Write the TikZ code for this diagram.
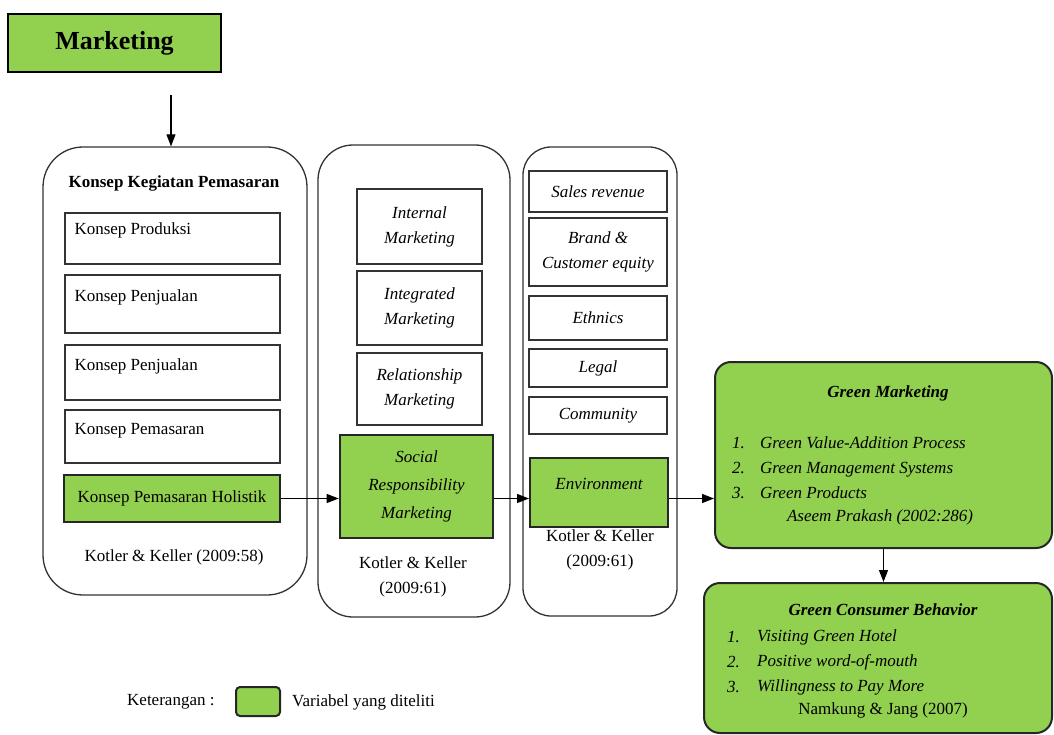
\documentclass[tikz,border=0pt]{standalone}
\usepackage{fontspec}
\setmainfont{Liberation Serif}
\usetikzlibrary{arrows.meta,fit}
\definecolor{leaf}{HTML}{92D050}
\definecolor{edge}{HTML}{333333}
\begin{document}
\begin{tikzpicture}[x=1pt,y=-1pt,
  every node/.style={font=\fontsize{17}{25}\selectfont, inner sep=0pt},
  outer/.style={draw=edge, line width=1.3pt, rounded corners=#1},
  wbox/.style={draw=edge, line width=1.3pt, fill=white},
  gbox/.style={draw=black!85, fill=leaf, line width=2.6pt},
  gbig/.style={draw=black!85, fill=leaf, line width=2pt, rounded corners=16pt},
  arr/.style={draw=black, line width=1.1pt, -{Triangle[length=12pt,width=9pt]}},
  it/.style={font=\fontsize{17}{25}\selectfont\itshape, align=center},
  bi/.style={font=\fontsize{17}{20}\selectfont\bfseries\itshape},
  up/.style={font=\fontsize{17}{25}\selectfont, align=center},
  ttl/.style={font=\fontsize{17}{20}\selectfont\bfseries},
  lst/.style={font=\fontsize{17}{25}\selectfont\itshape, align=left, anchor=west},
  lft/.style={anchor=west, xshift=10pt},
]
\useasboundingbox (0,0) rectangle (1054,735);

% Marketing
\node[draw=black, fill=leaf, line width=2pt, fit={(8,14) (221,72)},
      label={[font=\fontsize{26}{30}\selectfont\bfseries]center:Marketing}] (mk) {};

% Column 1
\node[outer=40pt, fit={(43,147) (307,595)}] (c1) {};
\node[ttl] (c1t) at (174,183) {Konsep Kegiatan Pemasaran};
\node[wbox, fit={(65,213) (280,264)},
      label={[lft,yshift=8pt]west:Konsep Produksi}] (p1) {};
\node[wbox, fit={(65,275) (280,333)},
      label={[lft,yshift=7pt]west:Konsep Penjualan}] (p2) {};
\node[wbox, fit={(65,345) (280,400)},
      label={[lft,yshift=6pt]west:Konsep Penjualan}] (p3) {};
\node[wbox, fit={(65,410) (280,463)},
      label={[lft,yshift=6pt]west:Konsep Pemasaran}] (p4) {};
\node[gbox, fit={(64,475) (280,522)},
      label={center:Konsep Pemasaran Holistik}] (hol) {};
\node[up] (c1s) at (174,557) {Kotler \& Keller (2009:58)};

% Column 2
\node[outer=35pt, fit={(318,145) (510,617)}] (c2) {};
\node[wbox, fit={(357,189) (482,264)}, label={[it]center:{Internal\\Marketing}}] (q1) {};
\node[wbox, fit={(357,271) (482,345)}, label={[it]center:{Integrated\\Marketing}}] (q2) {};
\node[wbox, fit={(357,353) (482,425)}, label={[it]center:{Relationship\\Marketing}}] (q3) {};
\node[gbox, fit={(340,435) (493,538)},
      label={[font=\fontsize{17}{28}\selectfont\itshape, align=center]center:{Social\\Responsibility\\Marketing}}] (soc) {};
\node[up] (c2s) at (413,577) {Kotler \& Keller\\(2009:61)};

% Column 3
\node[outer=28pt, fit={(523,147) (677,616)}] (c3) {};
\node[wbox, fit={(529,171) (667,212)}, label={[it]center:Sales revenue}] (r1) {};
\node[wbox, fit={(529,218) (667,286)}, label={[it]center:{Brand \&\\Customer equity}}] (r2) {};
\node[wbox, fit={(529,296) (667,340)}, label={[it]center:Ethnics}] (r3) {};
\node[wbox, fit={(529,349) (667,387)}, label={[it]center:Legal}] (r4) {};
\node[wbox, fit={(529,397) (667,434)}, label={[it]center:Community}] (r5) {};
\node[draw=black!85, fill=leaf, line width=2pt, fit={(530,458) (668,527)},
      label={[it,yshift=9pt]center:Environment}] (env) {};
\node[up] (c3s) at (600,550) {Kotler \& Keller\\(2009:61)};

% Green Marketing
\node[gbig, fit={(715,362) (1052,548)}] (gm) {};
\node[bi] (gmt) at (888,393) {Green Marketing};
\node[lst] (gmn) at (732,468) {1.\\2.\\3.};
\node[lst] (gmi) at (760,468) {Green Value-Addition Process\\Green Management Systems\\Green Products};
\node[it] (gms) at (880,517) {Aseem Prakash (2002:286)};

% Green Consumer Behavior
\node[gbig, fit={(704,583) (1052,733)}] (cb) {};
\node[bi] (cbt) at (883,610) {Green Consumer Behavior};
\node[lst] (cbn) at (727,662) {1.\\2.\\3.};
\node[lst] (cbi) at (757,662) {Visiting Green Hotel\\Positive word-of-mouth\\Willingness to Pay More};
\node[up] (cbs) at (883,710) {Namkung \& Jang (2007)};

% Legend
\node[anchor=west] (ket) at (127,702) {Keterangan :};
\node[draw=black!85, fill=leaf, line width=2pt, rounded corners=4pt,
      fit={(236,687) (280,716)}] (leg) {};
\node[anchor=west] (var) at (292,702) {Variabel yang diteliti};

% Connectors
\coordinate (mstart) at (171,95);
\draw[arr] (mstart) -- (mstart |- c1.north);
\draw[arr] (hol.east) -- (hol.east -| soc.west);
\draw[arr] (soc.east |- hol.east) -- (env.west |- hol.east);
\draw[arr] (env.east |- hol.east) -- (gm.west |- hol.east);
\draw[arr] (gm.south) -- (gm.south |- cb.north);
\end{tikzpicture}
\end{document}
